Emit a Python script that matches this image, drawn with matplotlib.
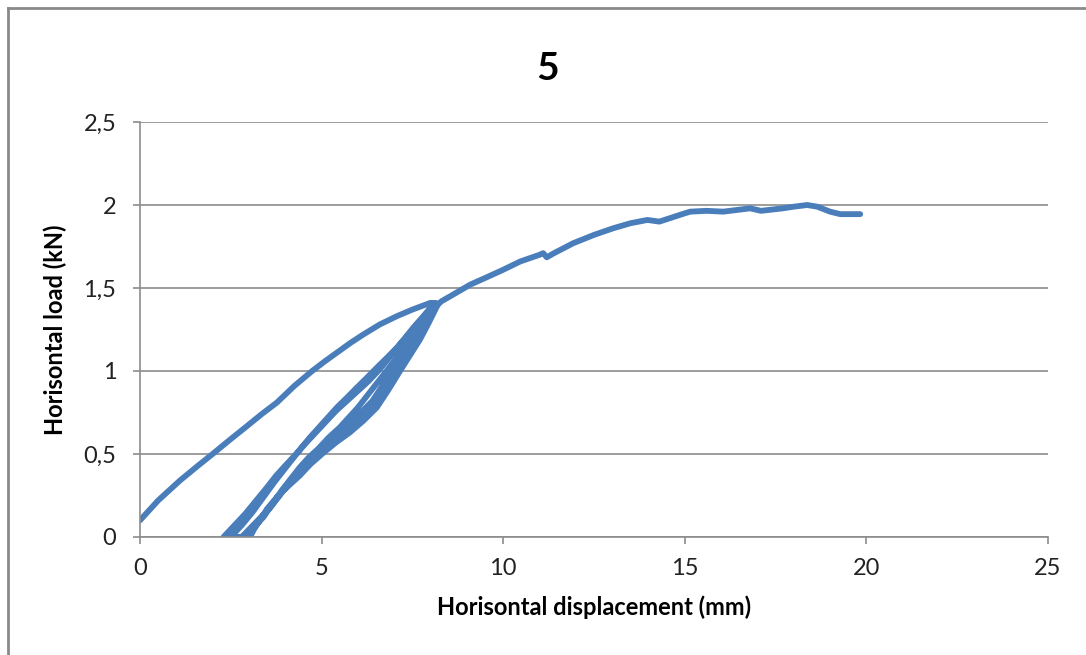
import matplotlib
matplotlib.use("Agg")
import matplotlib.pyplot as plt
from matplotlib.lines import Line2D
from matplotlib.ticker import FuncFormatter

# first loading up to the cyclic range
x_load1 = [0, 0.5, 1.1, 1.6, 2.0, 2.5, 2.9, 3.35, 3.77, 4.25, 4.74, 5.1, 5.42,
           5.8, 6.15, 6.6, 7.07, 7.5, 7.99, 8.15]
y_load1 = [0.10, 0.22, 0.34, 0.43, 0.50, 0.59, 0.66, 0.74, 0.81, 0.91, 1.00,
           1.06, 1.11, 1.17, 1.22, 1.28, 1.33, 1.37, 1.41, 1.41]

# unload / reload cycles
x_cyc1 = [8.2, 7.95, 7.71, 7.45, 7.16, 6.85, 6.52, 6.15, 5.78, 5.4, 5.04, 4.7,
          4.4, 4.1, 3.77, 3.5, 3.3, 3.15, 3.03,
          2.9, 3.15, 3.4, 3.65, 3.9, 4.15, 4.4, 4.65, 4.9, 5.2, 5.5, 5.75, 6.0,
          6.25, 6.5, 6.75, 7.0, 7.25, 7.5, 7.8, 8.1]
y_cyc1 = [1.40, 1.29, 1.19, 1.10, 1.00, 0.89, 0.78, 0.70, 0.63, 0.57, 0.505,
          0.44, 0.37, 0.31, 0.24, 0.17, 0.10, 0.05, 0.0,
          0.0, 0.06, 0.12, 0.20, 0.28, 0.35, 0.42, 0.48, 0.53, 0.60, 0.66,
          0.72, 0.78, 0.85, 0.92, 0.99, 1.06, 1.13, 1.20, 1.30, 1.40]
x_cyc2 = [8.1, 7.85, 7.6, 7.35, 7.1, 6.8, 6.5, 6.2, 5.9, 5.55, 5.2, 4.85, 4.5,
          4.2, 3.9, 3.55, 3.2, 3.05, 2.9,
          2.3, 2.6, 2.9, 3.2, 3.5, 3.75, 4.0, 4.32, 4.68, 5.05, 5.42, 5.7,
          5.97, 6.25, 6.52, 6.8, 7.07, 7.3, 7.52, 7.8, 8.07]
y_cyc2 = [1.40, 1.29, 1.18, 1.09, 1.00, 0.90, 0.80, 0.73, 0.67, 0.61, 0.55,
          0.49, 0.42, 0.35, 0.27, 0.17, 0.08, 0.04, 0.0,
          0.0, 0.07, 0.14, 0.22, 0.30, 0.37, 0.43, 0.505, 0.60, 0.69, 0.78,
          0.84, 0.90, 0.96, 1.02, 1.08, 1.14, 1.20, 1.26, 1.33, 1.40]
x_cyc3 = [8.07, 7.8, 7.55, 7.3, 7.05, 6.7, 6.4, 6.0, 5.6, 5.25, 4.9, 4.6, 4.3,
          3.95, 3.6, 3.2, 2.8,
          2.5, 2.8, 3.1, 3.4, 3.7, 3.95, 4.2, 4.5, 4.8, 5.1, 5.4, 5.7, 6.0,
          6.3, 6.6, 6.9, 7.2, 7.45, 7.7, 8.0, 8.3]
y_cyc3 = [1.40, 1.30, 1.20, 1.11, 1.03, 0.92, 0.82, 0.73, 0.65, 0.58, 0.52,
          0.45, 0.38, 0.28, 0.18, 0.09, 0.0,
          0.0, 0.07, 0.15, 0.24, 0.33, 0.40, 0.47, 0.55, 0.62, 0.69, 0.76,
          0.82, 0.88, 0.94, 1.01, 1.09, 1.17, 1.23, 1.30, 1.36, 1.42]

# final loading to failure
x_load2 = [8.3, 8.54, 9.09, 9.6, 10.0, 10.47, 11.0, 11.1, 11.2, 11.4, 11.93,
           12.5, 13.03, 13.5, 13.97, 14.3, 15.0, 15.15, 15.6, 16.06, 16.8,
           17.1, 17.7, 18.0, 18.37, 18.65, 19.0, 19.28, 19.83]
y_load2 = [1.42, 1.45, 1.52, 1.57, 1.61, 1.66, 1.70, 1.71, 1.685, 1.71, 1.77,
           1.82, 1.86, 1.89, 1.91, 1.90, 1.95, 1.96, 1.965, 1.96, 1.98,
           1.965, 1.98, 1.99, 2.00, 1.99, 1.96, 1.945, 1.945]

x = x_load1 + x_cyc1 + x_cyc2 + x_cyc3 + x_load2
y = y_load1 + y_cyc1 + y_cyc2 + y_cyc3 + y_load2

plt.rcParams['font.family'] = ['Lato', 'DejaVu Sans']

fig = plt.figure(figsize=(10.86, 6.55), dpi=100)
ax = fig.add_axes([0.1289, 0.1802, 0.8361, 0.6335])

ax.plot(x, y, color='#4A7EBB', lw=4.2, solid_joinstyle='round', solid_capstyle='round')

ax.set_xlim(0, 25)
ax.set_ylim(0, 2.5)
ax.set_xticks([0, 5, 10, 15, 20, 25])
ax.set_yticks([0, 0.5, 1, 1.5, 2, 2.5])
ax.yaxis.set_major_formatter(FuncFormatter(lambda v, p: ('%g' % v).replace('.', ',')))
ax.grid(axis='y', color='#8c8c8c', lw=1.2)
ax.set_axisbelow(True)
for s in ['top', 'right']:
    ax.spines[s].set_visible(False)
for s in ['left', 'bottom']:
    ax.spines[s].set_color('#8c8c8c')
    ax.spines[s].set_linewidth(1.2)
ax.tick_params(colors='#8c8c8c', labelcolor='#222222', labelsize=17, length=5, width=1.2)
ax.tick_params(axis='x', pad=10)
ax.tick_params(axis='y', pad=12)

ax.set_xlabel('Horisontal displacement (mm)', fontsize=17, fontweight='bold', labelpad=12)
ax.set_ylabel('Horisontal load (kN)', fontsize=17, fontweight='bold', labelpad=12)
fig.text(0.504, 0.895, '5', fontsize=28, fontweight='bold', ha='center', va='center')

# chart frame
fig.add_artist(Line2D([8/1086, 8/1086], [0, 1 - 8/655], color='#8a8a8a', lw=2))
fig.add_artist(Line2D([8/1086, 1], [1 - 8/655, 1 - 8/655], color='#8a8a8a', lw=2))

fig.savefig('out.png', dpi=100)
